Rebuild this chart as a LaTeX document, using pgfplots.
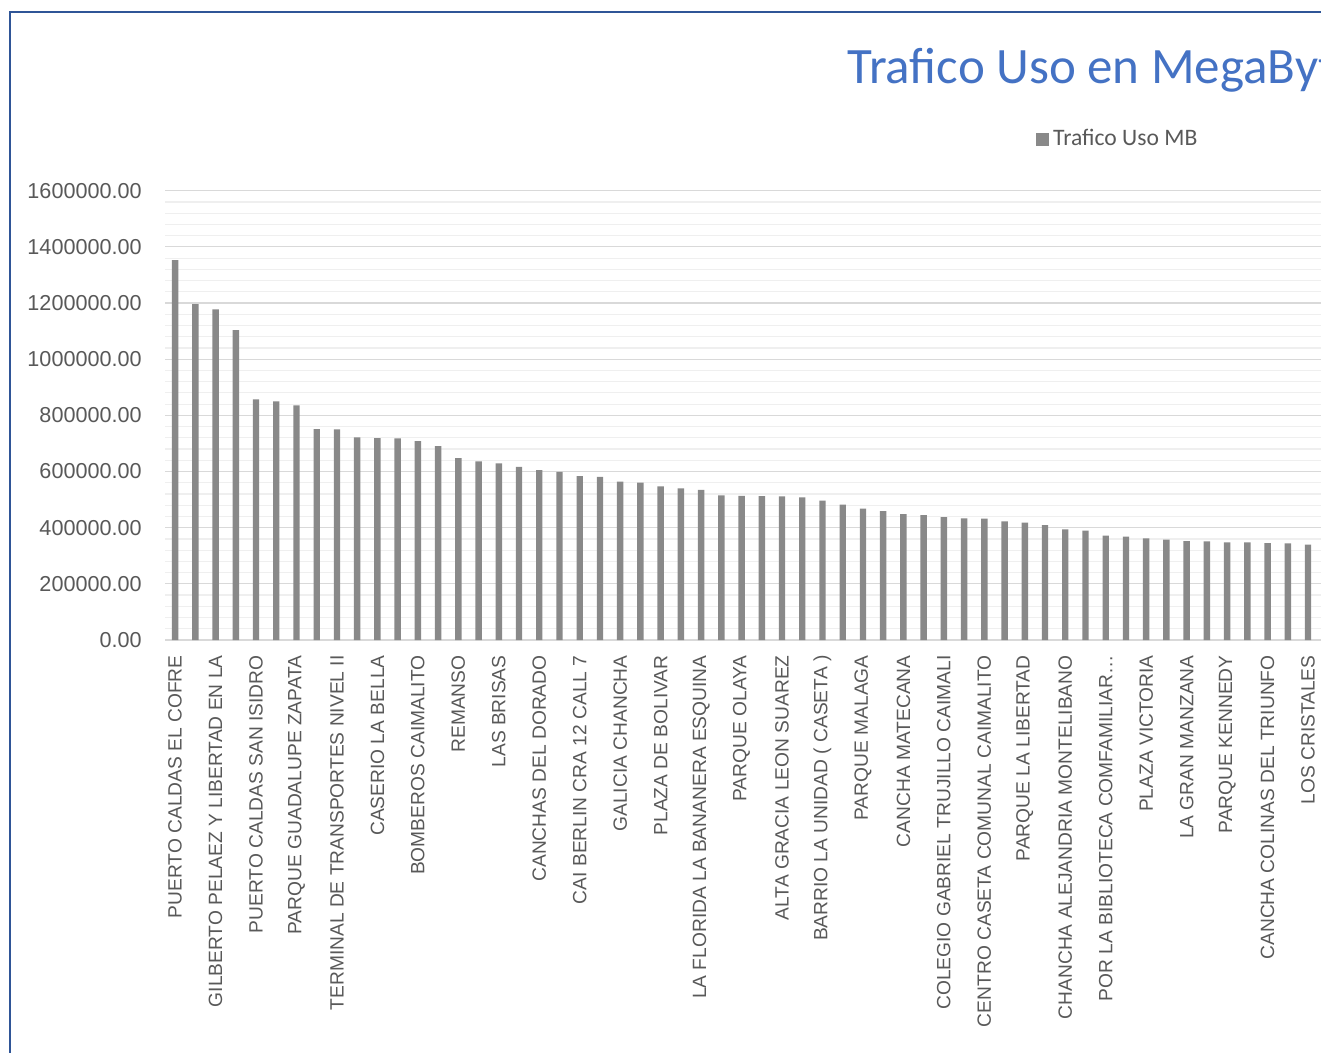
\documentclass[border=0pt]{standalone}
\usepackage{pgfplots}
\pgfplotsset{compat=1.18}
\usepackage{fontspec}
\setmainfont{Liberation Sans}
\newfontfamily\carlito{Carlito}
\definecolor{barc}{HTML}{898989}
\definecolor{txt}{HTML}{595959}
\definecolor{majg}{HTML}{D9D9D9}
\definecolor{ming}{HTML}{EFEFEF}
\definecolor{ttl}{HTML}{4472C4}
\definecolor{frm}{HTML}{2F5597}
\begin{document}
\begin{tikzpicture}
\useasboundingbox (0,0) rectangle (660.5pt,-526.5pt);
\clip (0,0) rectangle (660.5pt,-526.5pt);
\fill[white] (0,0) rectangle (660.5pt,-526.5pt);
\draw[frm, line width=1pt] (5pt,-540pt) -- (5pt,-6.2pt) -- (680pt,-6.2pt);
\node[anchor=base west, inner sep=0pt, font=\carlito\fontsize{25.5}{30}\selectfont, text=ttl] at (423.5pt,-41.65pt) {Trafico Uso en MegaBytes};
\begin{axis}[
  at={(82.5pt,-320pt)}, anchor=south west,
  scale only axis, width=579.6pt, height=224.65pt,
  xmin=-0.5, xmax=56.8, ymin=0, ymax=1600000,
  axis x line*=bottom, axis y line*=left,
  x axis line style={draw=majg, line width=0.75pt, -},
  y axis line style={draw=none, -},
  tick style={draw=none}, major tick length=0pt, minor tick length=0pt,
  ytick={0,200000,400000,600000,800000,1000000,1200000,1400000,1600000},
  minor y tick num=4,
  ymajorgrids, yminorgrids,
  major grid style={draw=majg, line width=0.6pt},
  minor grid style={draw=ming, line width=0.6pt},
  scaled y ticks=false,
  /pgf/number format/assume math mode=true,
  yticklabel style={/pgf/number format/fixed, /pgf/number format/fixed zerofill, /pgf/number format/precision=2, /pgf/number format/1000 sep={}, font=\fontsize{10.8}{12}\selectfont, text=txt, inner sep=0pt, xshift=-11.5pt, anchor=east},
  xtick={0,2,...,56},
  xticklabels={PUERTO CALDAS EL COFRE, GILBERTO PELAEZ Y LIBERTAD EN LA, PUERTO CALDAS SAN ISIDRO, PARQUE GUADALUPE ZAPATA, TERMINAL DE TRANSPORTES NIVEL II, CASERIO LA BELLA, BOMBEROS CAIMALITO, REMANSO, LAS BRISAS, CANCHAS DEL DORADO, CAI BERLIN CRA 12 CALL 7, GALICIA CHANCHA, PLAZA DE BOLIVAR, LA FLORIDA LA BANANERA ESQUINA, PARQUE OLAYA, ALTA GRACIA LEON SUAREZ, BARRIO LA UNIDAD ( CASETA ), PARQUE MALAGA, CANCHA MATECANA, COLEGIO GABRIEL TRUJILLO CAIMALI, CENTRO CASETA COMUNAL CAIMALITO, PARQUE LA LIBERTAD, CHANCHA ALEJANDRIA MONTELIBANO, POR LA BIBLIOTECA COMFAMILIAR…, PLAZA VICTORIA, LA GRAN MANZANA, PARQUE KENNEDY, CANCHA COLINAS DEL TRIUNFO, LOS CRISTALES},
  xticklabel style={yshift=-7.5pt, rotate=90, anchor=east, inner sep=0pt, font=\fontsize{9.6}{11}\selectfont, text=txt},
  legend style={draw=none, fill=none, at={(0.7514,1.1146)}, anchor=west, inner sep=0pt, font=\carlito\fontsize{11.8}{14}\selectfont, text=txt},
  legend image code/.code={\fill[barc] (0pt,-3.2pt) rectangle (6.4pt,3.2pt);},
]
\addplot[ybar, bar width=3.2pt, fill=barc, draw=none] table[x=i, y=v] {
i v
0 1353200
1 1196500
2 1177600
3 1103900
4 857100
5 850000
6 835800
7 751400
8 750300
9 721800
10 719300
11 718300
12 708600
13 690800
14 647400
15 636400
16 629200
17 616100
18 605400
19 598300
20 584000
21 580500
22 563700
23 560200
24 547300
25 540200
26 534200
27 515300
28 513500
29 512800
30 511700
31 508200
32 496100
33 481800
34 467600
35 459400
36 448700
37 445100
38 438000
39 433400
40 432000
41 422700
42 417700
43 409500
44 394200
45 389200
46 371400
47 367900
48 362200
49 357200
50 352500
51 351500
52 347900
53 347900
54 345400
55 344400
56 339400
};
\addlegendentry{Trafico Uso MB}
\end{axis}
\end{tikzpicture}
\end{document}
